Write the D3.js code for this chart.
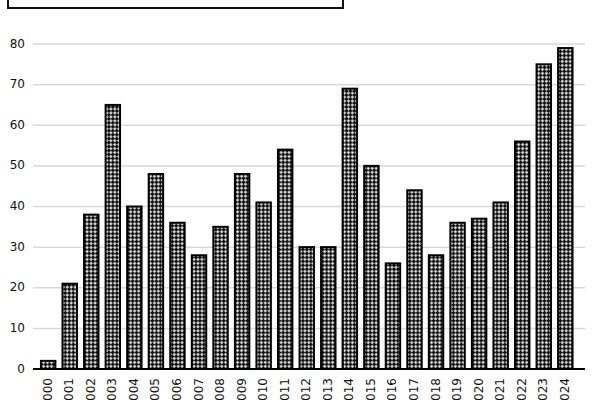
<!DOCTYPE html>
<html>
<head>
<meta charset="utf-8">
<script src="https://cdn.jsdelivr.net/npm/d3@7"></script>
<style>
  body { margin: 0; background: #fff; }
  svg { display: block; }
</style>
</head>
<body>
<div id="chart"></div>
<script>
// values
var years = ["2000","2001","2002","2003","2004","2005","2006","2007","2008","2009",
             "2010","2011","2012","2013","2014","2015","2016","2017","2018","2019",
             "2020","2021","2022","2023","2024"];
var counts = [2, 21, 38, 65, 40, 48, 36, 28, 35, 48,
              41, 54, 30, 30, 69, 50, 26, 44, 28, 36,
              37, 41, 56, 75, 79];
var yTicks = [0, 10, 20, 30, 40, 50, 60, 70, 80];

var width = 600, height = 400;
var margin = {top: 44, bottom: 31};

var data = years.map(function(y, i) { return {year: y, value: counts[i]}; });

var svg = d3.select("#chart")
  .append("svg")
    .attr("width", width)
    .attr("height", height)
    .style("font-family", "'DejaVu Sans', sans-serif");

// hatch pattern (diagonal checker)
var defs = svg.append("defs");
var pat = defs.append("pattern")
    .attr("id", "hatch")
    .attr("patternUnits", "userSpaceOnUse")
    .attr("width", 5.6)
    .attr("height", 5.6)
    .attr("patternTransform", "rotate(45)");
pat.append("rect").attr("width", 5.6).attr("height", 5.6).attr("fill", "#111");
pat.append("rect").attr("x", 0.3).attr("y", 0.3).attr("width", 2.3).attr("height", 2.3).attr("fill", "#fff");
pat.append("rect").attr("x", 3.1).attr("y", 3.1).attr("width", 2.3).attr("height", 2.3).attr("fill", "#fff");

var x = d3.scaleBand()
    .domain(years)
    .range([34.5, 579])
    .paddingInner(0.33)
    .paddingOuter(0.3);

var y = d3.scaleLinear()
    .domain([0, 80])
    .range([height - margin.bottom, margin.top]);

// box peeking in at the top (title / legend frame)
svg.append("rect")
    .attr("x", 8)
    .attr("y", -30)
    .attr("width", 335)
    .attr("height", 38)
    .attr("fill", "none")
    .attr("stroke", "#111")
    .attr("stroke-width", 2);

// gridlines
svg.append("g")
  .selectAll("line")
  .data(yTicks.filter(function(d) { return d > 0; }))
  .enter()
  .append("line")
    .attr("x1", 33)
    .attr("x2", 585)
    .attr("y1", function(d) { return y(d); })
    .attr("y2", function(d) { return y(d); })
    .attr("stroke", "#d9d9d9")
    .attr("stroke-width", 1.5);

// y labels
svg.append("g")
  .selectAll("text")
  .data(yTicks)
  .enter()
  .append("text")
    .attr("x", 25)
    .attr("y", function(d) { return y(d); })
    .attr("text-anchor", "end")
    .attr("dominant-baseline", "middle")
    .style("font-size", "12px")
    .attr("fill", "#111")
    .text(function(d) { return d; });

// bars
svg.append("g")
  .selectAll("rect")
  .data(data)
  .enter()
  .append("rect")
    .attr("x", function(d) { return x(d.year); })
    .attr("y", function(d) { return y(d.value); })
    .attr("width", x.bandwidth())
    .attr("height", function(d) { return y(0) - y(d.value); })
    .attr("fill", "url(#hatch)")
    .attr("stroke", "#000")
    .attr("stroke-width", 2);

// baseline
svg.append("line")
    .attr("x1", 33)
    .attr("x2", 585)
    .attr("y1", y(0))
    .attr("y2", y(0))
    .attr("stroke", "#000")
    .attr("stroke-width", 2);

// x labels, rotated
svg.append("g")
  .selectAll("text")
  .data(years)
  .enter()
  .append("text")
    .attr("transform", function(d) {
      return "translate(" + (x(d) + x.bandwidth() / 2) + "," + (y(0) + 9) + ") rotate(-90)";
    })
    .attr("text-anchor", "end")
    .attr("dominant-baseline", "middle")
    .style("font-size", "12px")
    .attr("fill", "#111")
    .text(function(d) { return d; });
</script>
</body>
</html>
